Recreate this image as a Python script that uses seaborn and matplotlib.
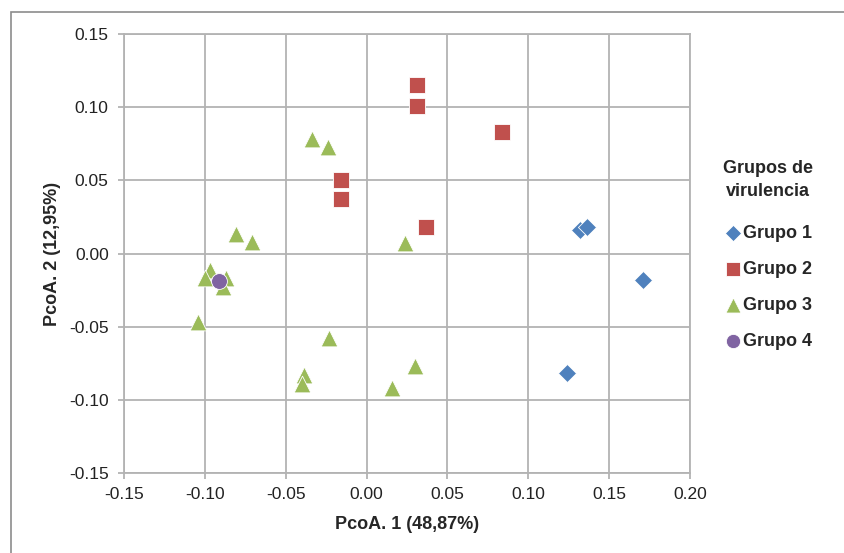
import pandas as pd
import matplotlib.pyplot as plt
import seaborn as sns
from matplotlib.patches import Rectangle

# Puntos por grupo de virulencia (PcoA 1, PcoA 2)
g1_x = [0.132, 0.136, 0.171, 0.124]
g1_y = [0.016, 0.018, -0.018, -0.082]
g2_x = [0.031, 0.031, 0.084, -0.016, -0.016, 0.037]
g2_y = [0.115, 0.101, 0.083, 0.050, 0.037, 0.018]
g3_x = [-0.034, -0.024, -0.081, -0.071, 0.024, -0.097, -0.100, -0.087,
        -0.089, -0.104, -0.023, -0.039, -0.040, 0.030, 0.016]
g3_y = [0.078, 0.073, 0.013, 0.008, 0.007, -0.011, -0.017, -0.017,
        -0.023, -0.047, -0.058, -0.083, -0.089, -0.077, -0.092]
g4_x = [-0.091]
g4_y = [-0.019]

groups = ['Grupo 1', 'Grupo 2', 'Grupo 3', 'Grupo 4']
colors = ['#4F81BD', '#C0504D', '#9BBB59', '#8064A2']
markers = ['D', 's', '^', 'o']
sizes = [85, 135, 145, 130]

df = pd.concat([
    pd.DataFrame({'x': g1_x, 'y': g1_y, 'grupo': 'Grupo 1'}),
    pd.DataFrame({'x': g2_x, 'y': g2_y, 'grupo': 'Grupo 2'}),
    pd.DataFrame({'x': g3_x, 'y': g3_y, 'grupo': 'Grupo 3'}),
    pd.DataFrame({'x': g4_x, 'y': g4_y, 'grupo': 'Grupo 4'}),
])

sns.set_style('white')
plt.rcParams['font.family'] = ['Liberation Sans', 'DejaVu Sans']

fig = plt.figure(figsize=(8.44, 5.53), dpi=100)
ax = fig.add_axes([124 / 844, 1 - 473 / 553, 566 / 844, 439 / 553])

# borde exterior del gráfico
fig.patches.append(Rectangle((11 / 844, -0.05), 1.1, 1 - 12.5 / 553 + 0.05,
                             transform=fig.transFigure, fill=False,
                             edgecolor='#8c8c8c', linewidth=1.2, zorder=0))

for g, c, m, s in zip(groups, colors, markers, sizes):
    sns.scatterplot(data=df[df['grupo'] == g], x='x', y='y', color=c, marker=m,
                    s=s, linewidth=0.6, edgecolor='white', ax=ax, label=g, zorder=3)

ax.set_xlim(-0.15, 0.20)
ax.set_ylim(-0.15, 0.15)
ax.set_xticks([-0.15, -0.10, -0.05, 0.00, 0.05, 0.10, 0.15, 0.20])
ax.set_yticks([-0.15, -0.10, -0.05, 0.00, 0.05, 0.10, 0.15])
ax.xaxis.set_major_formatter(plt.FormatStrFormatter('%.2f'))
ax.yaxis.set_major_formatter(plt.FormatStrFormatter('%.2f'))
ax.grid(True, color='#b3b3b3', linewidth=1.3)
ax.set_axisbelow(True)
for sp in ax.spines.values():
    sp.set_color('#b3b3b3')
    sp.set_linewidth(1.3)
ax.tick_params(axis='both', length=4, color='#b3b3b3', width=1.3, labelsize=12.5,
               left=True, bottom=True, labelcolor='#222222')
ax.tick_params(axis='x', pad=6)
ax.tick_params(axis='y', pad=7)

ax.set_xlabel('PcoA. 1 (48,87%)', fontsize=13, fontweight='bold', labelpad=10)
ax.set_ylabel('PcoA. 2 (12,95%)', fontsize=13, fontweight='bold', labelpad=6)

leg = ax.legend(title='Grupos de\nvirulencia', loc='upper left', bbox_to_anchor=(1.03, 0.75),
                frameon=False, prop={'weight': 'bold', 'size': 13}, handletextpad=0.05,
                labelspacing=1.05, markerscale=0.9, handlelength=1.0)
leg.get_title().set_fontsize(13)
leg.get_title().set_fontweight('bold')
leg.get_title().set_multialignment('center')
leg.get_title().set_linespacing(1.45)
leg._legend_box.sep = 18

fig.savefig('out.png', dpi=100)
